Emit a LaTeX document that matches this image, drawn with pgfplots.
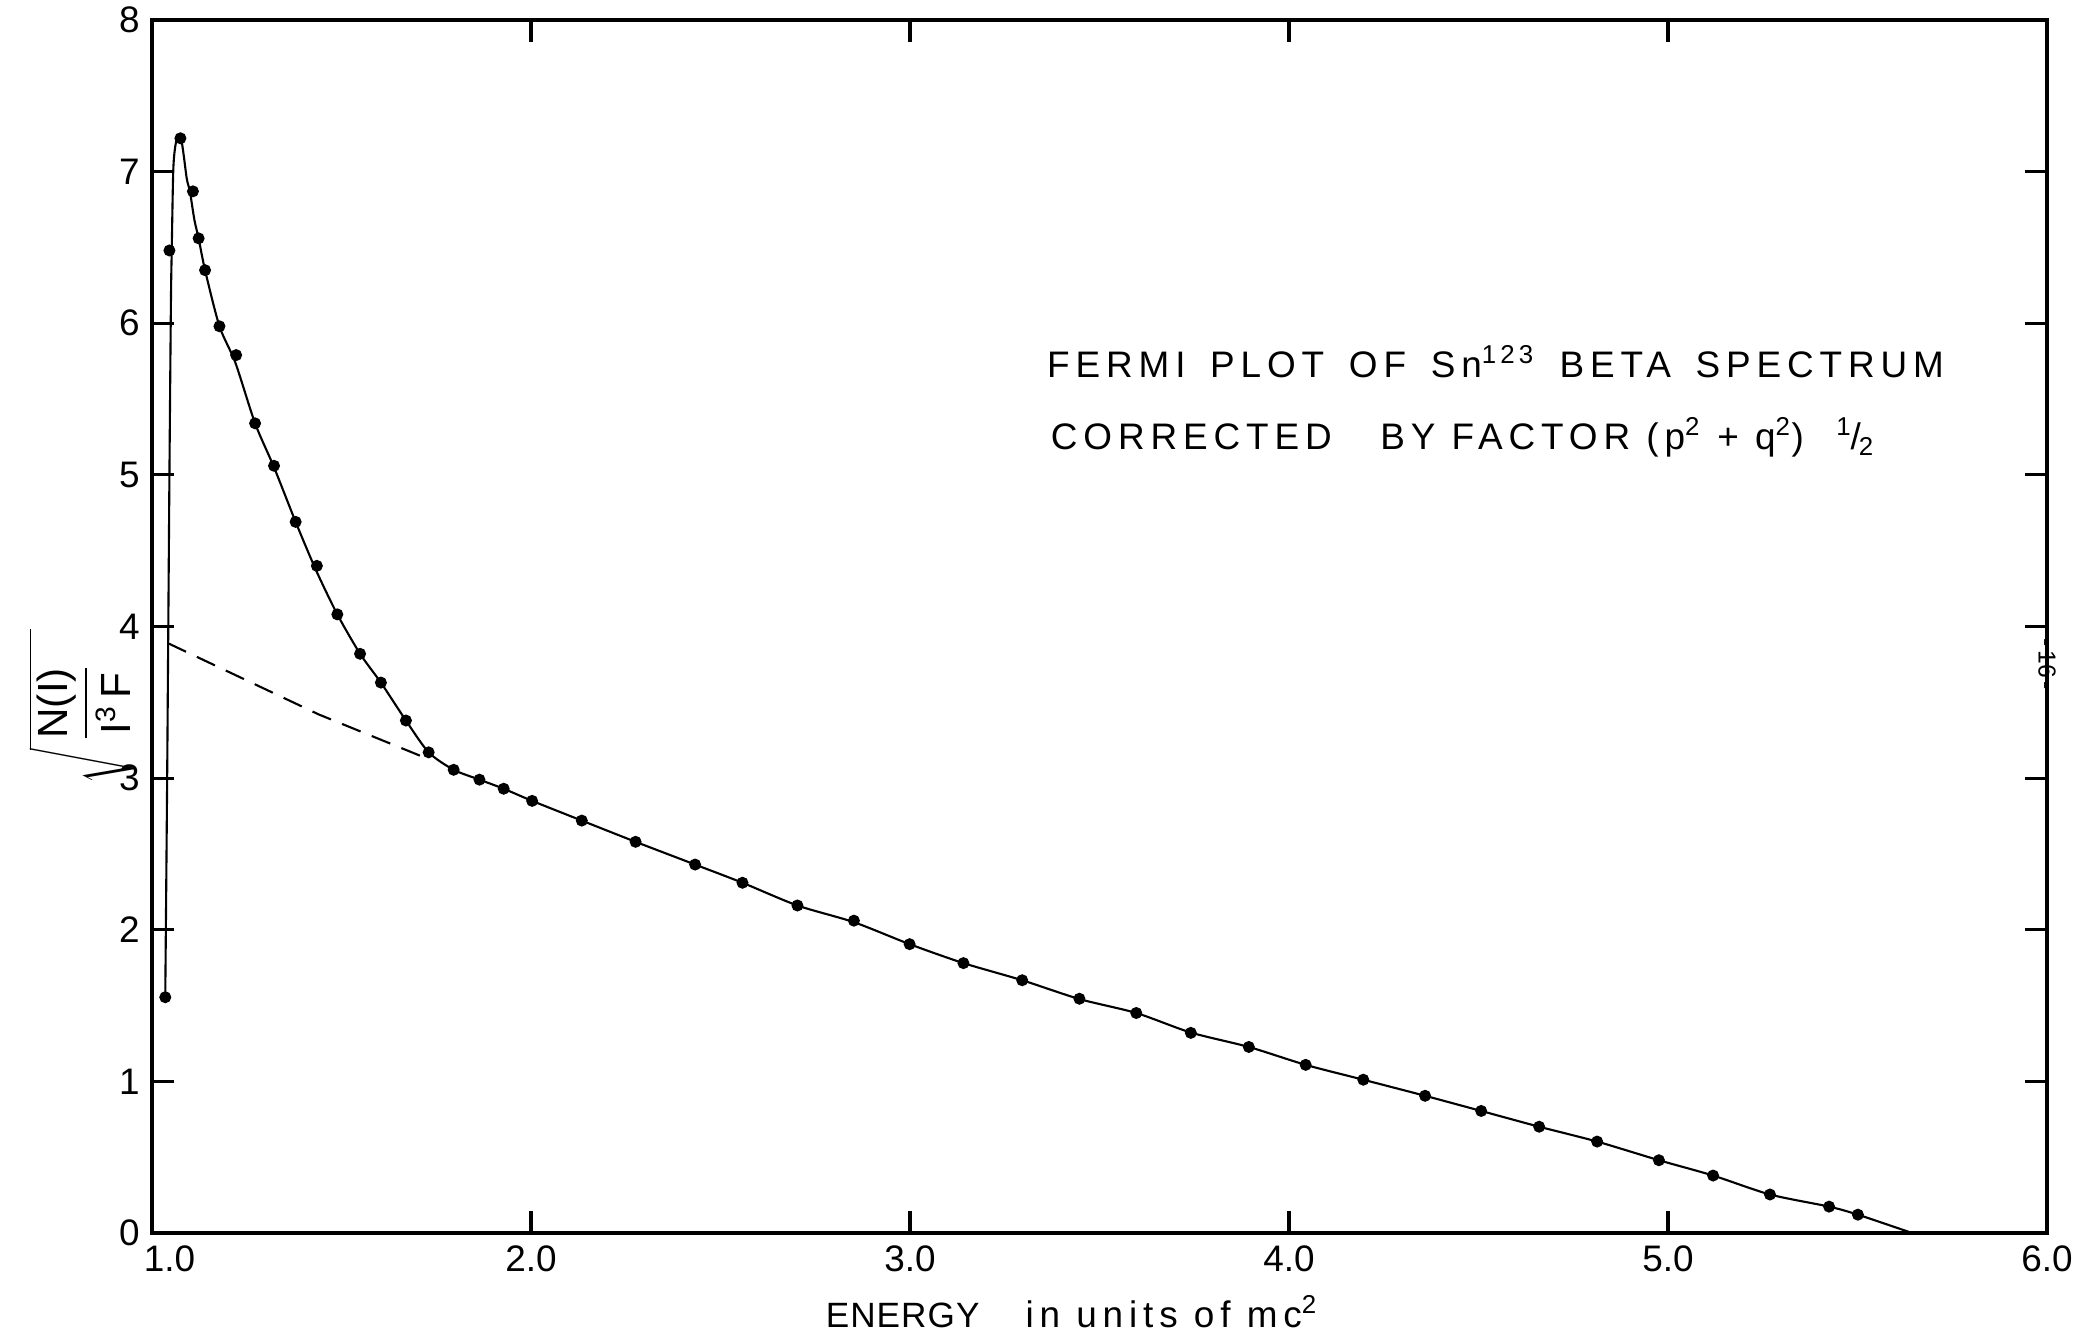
\documentclass[border=0pt]{standalone}
\usepackage{fontspec}
\setmainfont{Liberation Sans}
\usepackage{pgfplots}
\pgfplotsset{compat=1.18}
\begin{document}
\begin{tikzpicture}
  \begin{axis}[
    name=ax,
    scale only axis,
    width=189.5mm, height=121.3mm,
    xmin=1, xmax=6, ymin=0, ymax=8,
    xtick={1,2,3,4,5,6},
    xticklabels={\hspace{3.5mm}1.0,2.0,3.0,4.0,5.0,6.0},
    ytick={0,1,2,3,4,5,6,7,8},
    tick align=inside, tick pos=both,
    major tick length=2.2mm,
    axis line style={line width=1.3pt},
    every tick/.style={black, line width=0.9pt},
    ticklabel style={font=\fontsize{10.5}{12}\selectfont},
    /pgf/number format/assume math mode=true,
    clip=false
    ]
    % fitted curve (hand drawn)
    \addplot[black, line width=0.6pt, smooth, tension=0.45] coordinates {
      (1.035,1.555) (1.040,3.0) (1.046,5.0) (1.050,6.15) (1.052,6.47)
      (1.056,7.0) (1.061,7.16) (1.068,7.23) (1.076,7.23) (1.083,7.12)
      (1.092,6.95) (1.100,6.87) (1.112,6.68) (1.123,6.56) (1.140,6.35)
      (1.178,5.98) (1.220,5.74) (1.272,5.34) (1.322,5.05) (1.379,4.69)
      (1.433,4.37) (1.489,4.08) (1.549,3.82) (1.604,3.63) (1.670,3.38)
      (1.730,3.17) (1.796,3.055) (1.864,2.99) (1.928,2.93) (2.003,2.85)
      (2.134,2.72) (2.276,2.58) (2.433,2.43) (2.558,2.31) (2.703,2.16)
      (2.852,2.05) (2.999,1.905) (3.141,1.78) (3.296,1.667) (3.447,1.543)
      (3.597,1.451) (3.741,1.322) (3.894,1.227) (4.044,1.109) (4.196,1.011)
      (4.359,0.905) (4.507,0.805) (4.660,0.701) (4.813,0.603) (4.976,0.480)
      (5.119,0.379) (5.269,0.254) (5.425,0.174) (5.501,0.121) (5.644,0)
    };
    % extrapolated straight part
    \addplot[black, line width=0.6pt, dash pattern=on 2mm off 1.2mm] coordinates {
      (1.042,3.89) (1.44,3.42) (1.73,3.125)
    };
    % measured points
    \addplot[only marks, mark=*, mark size=1.5pt, black] coordinates {
      (1.035,1.555) (1.046,6.48) (1.075,7.22) (1.108,6.87) (1.123,6.56)
      (1.140,6.35) (1.178,5.98) (1.222,5.79) (1.272,5.34) (1.322,5.06)
      (1.379,4.69) (1.435,4.40) (1.489,4.08) (1.549,3.82) (1.604,3.63)
      (1.670,3.38) (1.730,3.17) (1.796,3.055) (1.864,2.99) (1.928,2.93)
      (2.003,2.85) (2.134,2.72) (2.276,2.58) (2.433,2.43) (2.558,2.31)
      (2.703,2.16) (2.852,2.06) (2.999,1.905) (3.141,1.78) (3.296,1.667)
      (3.447,1.545) (3.597,1.451) (3.741,1.32) (3.894,1.227) (4.044,1.109)
      (4.196,1.011) (4.359,0.905) (4.507,0.805) (4.660,0.701) (4.813,0.603)
      (4.976,0.48) (5.119,0.379) (5.269,0.254) (5.425,0.174) (5.501,0.121)
    };

    \node[anchor=west, inner sep=0pt,
      font=\fontsize{10.5}{12}\selectfont\addfontfeature{LetterSpace=16}]
      at (axis cs:3.36,5.745) {FERMI\ \hspace{0.23em}PLOT\ \hspace{0.23em}OF\ \hspace{0.23em}Sn\textsuperscript{123}\ \hspace{0.23em}BETA\ \hspace{0.23em}SPECTRUM};
    \node[anchor=west, inner sep=0pt,
      font=\fontsize{10.5}{12}\selectfont\addfontfeature{LetterSpace=16}]
      at (axis cs:3.37,5.247) {CORRECTED\ \ \ BY\ FACTOR\ (p\textsuperscript{2}\ + q\textsuperscript{2})\ \ \textsuperscript{1}\kern-0.05em/\kern-0.05em\textsubscript{2}};

    \node[anchor=west, inner sep=0pt, font=\fontsize{10.5}{12}\selectfont]
      at (axis cs:2.776,0) [yshift=-7.9mm]
      {{\fontsize{10}{12}\selectfont\addfontfeature{LetterSpace=3}ENERGY}\hspace{4.6mm}{\addfontfeature{LetterSpace=16}in units of mc\textsuperscript{2}}};

    \node[rotate=90, inner sep=0pt, font=\fontsize{12}{14}\selectfont]
      at (axis cs:0.815,3.47) {$\sqrt{\,\displaystyle\frac{\mbox{N(I)}}{\mbox{\rule{0pt}{1.8ex}I\textsuperscript{3}\,F}}\;\;\;}$};

    \node[rotate=-90, font=\fontsize{7}{8}\selectfont]
      at (axis cs:6,3.91) [xshift=2.4mm] {-\,16\,-};
  \end{axis}
  \pgfresetboundingbox
  \path[use as bounding box]
    ([xshift=-15.2mm, yshift=-10.0mm]ax.south west)
    rectangle ([xshift=3.2mm, yshift=2.0mm]ax.north east);
\end{tikzpicture}
\end{document}
